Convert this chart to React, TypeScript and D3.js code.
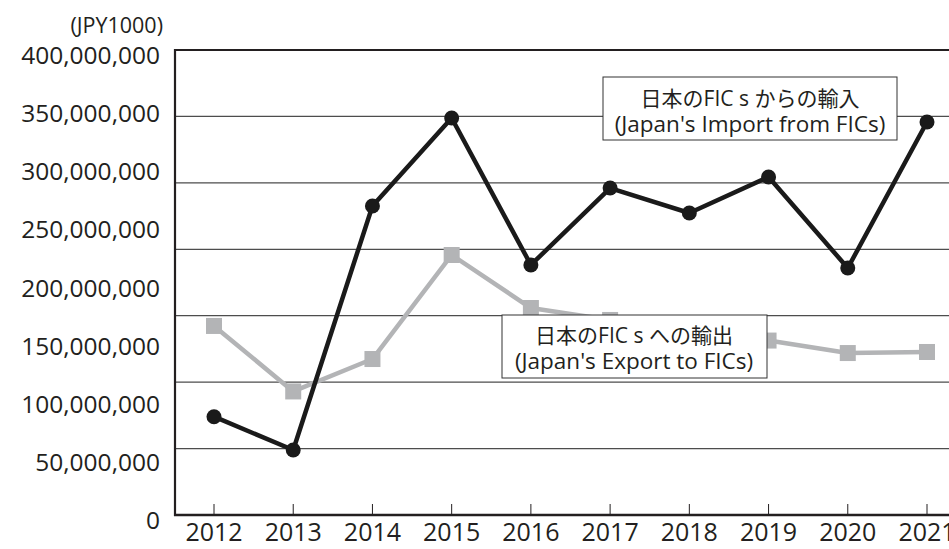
import React from "react";
import * as d3 from "d3";

const years = [2012, 2013, 2014, 2015, 2016, 2017, 2018, 2019, 2020, 2021];
// values in JPY1000, read against the gridlines
const imports = [74.0e6, 48.9e6, 232.6e6, 298.8e6, 188.2e6, 246.1e6, 227.3e6, 254.4e6, 185.9e6, 295.8e6];
const exports = [142.3e6, 93.0e6, 117.4e6, 195.7e6, 155.8e6, 146.8e6, 138.5e6, 131.3e6, 121.9e6, 122.7e6];
const gridValues = [0, 50e6, 100e6, 150e6, 200e6, 250e6, 300e6, 350e6];
const tickLabels = [0, 50e6, 100e6, 150e6, 200e6, 250e6, 300e6, 350e6, 400e6];
const unitLabel = "(JPY1000)";
const importLabel = ["日本のFIC s からの輸入", "(Japan's Import from FICs)"];
const exportLabel = ["日本のFIC s への輸出", "(Japan's Export to FICs)"];

const W = 949;
const H = 549;
const FONT = "'Open Sans', 'Noto Sans CJK JP', sans-serif";

export default function App() {
  const x = d3.scaleLinear().domain([2012, 2021]).range([214, 927]);
  const y = d3.scaleLinear().domain([0, 350e6]).range([515, 50]);
  // the tick labels in the original sit on their own, slightly different spacing
  const yLabel = d3.scaleLinear().domain([0, 400e6]).range([529, 64]);
  const fmt = d3.format(",");

  const line = d3
    .line<number>()
    .x((d, i) => x(years[i]))
    .y((d) => y(d));

  return (
    <svg width={W} height={H} style={{ position: "absolute", left: 0, top: 0, background: "#fff" }}>
      <g fontFamily={FONT} fill="#231f20">
        {/* gridlines */}
        {gridValues.slice(1, -1).map((v) => (
          <line key={v} x1={175} x2={W} y1={y(v)} y2={y(v)} stroke="#4d4d4d" strokeWidth={1.2} />
        ))}
        <line x1={175} x2={W} y1={y(350e6)} y2={y(350e6)} stroke="#231f20" strokeWidth={2} />

        {/* x ticks */}
        {years.map((yr) => (
          <line key={yr} x1={x(yr)} x2={x(yr)} y1={y(0)} y2={y(0) - 11} stroke="#231f20" strokeWidth={1} />
        ))}

        {/* axes */}
        <line x1={175} x2={175} y1={y(350e6) - 1} y2={y(0) + 1} stroke="#231f20" strokeWidth={2.2} />
        <line x1={174} x2={W} y1={y(0)} y2={y(0)} stroke="#231f20" strokeWidth={2.5} />

        {/* y labels */}
        {tickLabels.map((v) => (
          <text key={v} x={160} y={yLabel(v)} textAnchor="end" fontSize={24.5}>
            {fmt(v)}
          </text>
        ))}
        <text x={163} y={33} textAnchor="end" fontSize={21.5}>
          {unitLabel}
        </text>

        {/* x labels */}
        {years.map((yr) => (
          <text key={yr} x={x(yr)} y={541} textAnchor="middle" fontSize={25}>
            {yr}
          </text>
        ))}

        {/* export series */}
        <path d={line(exports) || ""} fill="none" stroke="#b3b4b6" strokeWidth={4.5} strokeLinejoin="round" />
        {exports.map((v, i) => (
          <rect key={i} x={x(years[i]) - 8} y={y(v) - 8} width={16} height={16} fill="#b3b4b6" />
        ))}

        {/* import series */}
        <path d={line(imports) || ""} fill="none" stroke="#1a1a1a" strokeWidth={4.5} strokeLinejoin="round" />
        {imports.map((v, i) => (
          <circle key={i} cx={x(years[i])} cy={y(v)} r={7.5} fill="#1a1a1a" />
        ))}

        {/* legend boxes */}
        <rect x={603} y={77} width={294} height={63} fill="#fff" stroke="#333" strokeWidth={1} />
        <text x={750} y={106} textAnchor="middle" fontSize={21}>{importLabel[0]}</text>
        <text x={750} y={132} textAnchor="middle" fontSize={22.5}>{importLabel[1]}</text>

        <rect x={502} y={315} width={265} height={63} fill="#fff" stroke="#333" strokeWidth={1} />
        <text x={634} y={343} textAnchor="middle" fontSize={21}>{exportLabel[0]}</text>
        <text x={634} y={369} textAnchor="middle" fontSize={22.5}>{exportLabel[1]}</text>
      </g>
    </svg>
  );
}
